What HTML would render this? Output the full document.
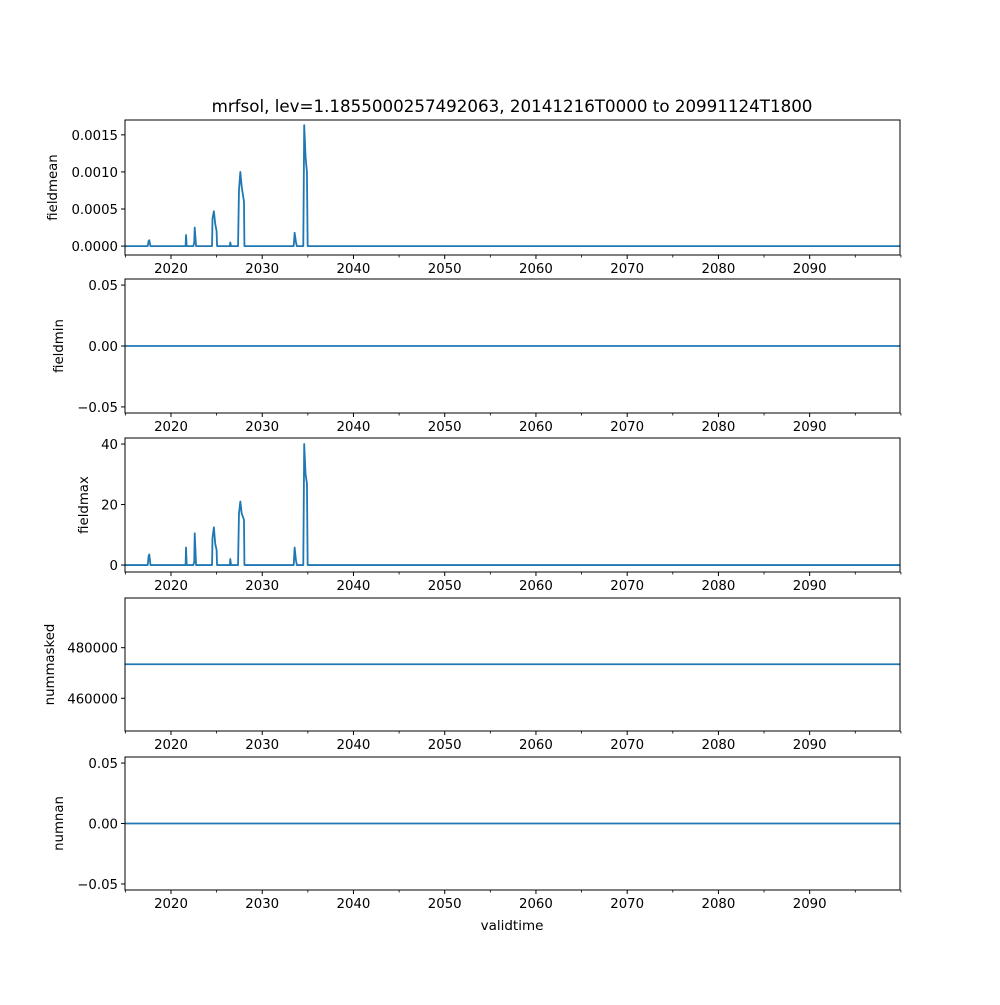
<!DOCTYPE html>
<html><head><meta charset="utf-8"><style>
body{margin:0;background:#fff}
svg text{font-family:"DejaVu Sans","Liberation Sans",sans-serif;fill:#000}
</style></head><body>
<svg id="fig" width="1000" height="1000" viewBox="0 0 1000 1000" xmlns="http://www.w3.org/2000/svg">
<rect width="1000" height="1000" fill="#fff"/>
<text x="512" y="112" font-size="16.7" text-anchor="middle">mrfsol, lev=1.1855000257492063, 20141216T0000 to 20991124T1800</text>
<text x="512" y="930" font-size="13.5" text-anchor="middle">validtime</text>
</svg>
<script>
// data
const times = [2014.96, 2017.45, 2017.55, 2017.62, 2017.75, 2021.6, 2021.65, 2021.72, 2022.45, 2022.55, 2022.6, 2022.75, 2024.5, 2024.55, 2024.7, 2024.85, 2025.0, 2025.05, 2026.45, 2026.5, 2026.58, 2027.35, 2027.45, 2027.6, 2027.75, 2028.0, 2028.05, 2033.45, 2033.55, 2033.7, 2033.8, 2034.5, 2034.6, 2034.75, 2034.9, 2034.98, 2099.9];
const fieldmean = [0, 0, 0.00007, 0.00008, 0, 0, 0.00015, 0, 0, 0.00005, 0.00025, 0, 0, 0.00037, 0.00047, 0.0003, 0.0002, 0, 0, 0.00005, 0, 0, 0.00075, 0.001, 0.0008, 0.0006, 0, 0, 0.00018, 0.00005, 0, 0, 0.00163, 0.0012, 0.001, 0, 0];
const fieldmax = [0, 0, 3.0, 3.5, 0, 0, 5.8, 0, 0, 1, 10.5, 0, 0, 9, 12.5, 7, 5, 0, 0, 2, 0, 0, 17, 21, 17, 15, 0, 0, 5.8, 1.5, 0, 0, 40, 30, 27, 0, 0];
const nummaskedValue = 473440;
const majorYears = [2020, 2030, 2040, 2050, 2060, 2070, 2080, 2090];
const minorYears = [2015, 2025, 2035, 2045, 2055, 2065, 2075, 2085, 2095, 2100];

const svg = document.getElementById('fig');
const NS = 'http://www.w3.org/2000/svg';
const X0 = 125, X1 = 900, T0 = 2014.96, T1 = 2099.9;
const xs = t => X0 + (t - T0) / (T1 - T0) * (X1 - X0);
function mk(tag, attrs, parent) {
  const e = document.createElementNS(NS, tag);
  for (const k in attrs) e.setAttribute(k, attrs[k]);
  (parent || svg).appendChild(e);
  return e;
}
const minus = s => s.replace('-', '\u2212');
const panels = [
  {name:'fieldmean', top:120, bot:255, ymin:-0.00012, ymax:0.0017, ticks:[0,0.0005,0.001,0.0015], fmt:v=>v.toFixed(4), vals:fieldmean, lab:'fieldmean', labx:57},
  {name:'fieldmin', top:279, bot:413, ymin:-0.055, ymax:0.055, ticks:[-0.05,0,0.05], fmt:v=>v.toFixed(2), vals:times.map(()=>0), lab:'fieldmin', labx:63},
  {name:'fieldmax', top:438, bot:572, ymin:-2.3, ymax:42, ticks:[0,20,40], fmt:v=>String(v), vals:fieldmax, lab:'fieldmax', labx:88},
  {name:'nummasked', top:598, bot:731, ymin:447070, ymax:499640, ticks:[460000,480000], fmt:v=>String(v), vals:times.map(()=>nummaskedValue), lab:'nummasked', labx:54},
  {name:'numnan', top:757, bot:890, ymin:-0.055, ymax:0.055, ticks:[-0.05,0,0.05], fmt:v=>v.toFixed(2), vals:times.map(()=>0), lab:'numnan', labx:63}
];
panels.forEach(p => {
  const g = mk('g', {});
  
  
  const ys = v => p.bot - (v - p.ymin) / (p.ymax - p.ymin) * (p.bot - p.top);
  const d = times.map((t, i) => (i ? 'L' : 'M') + xs(t).toFixed(2) + ' ' + ys(p.vals[i]).toFixed(2)).join(' ');
  const line = mk('path', {d:d, fill:'none', stroke:'#1f77b4', 'stroke-width':1.8, 'stroke-linejoin':'round'}, g);
  
  
  const fr = mk('rect', {x:X0, y:p.top, width:X1-X0, height:p.bot-p.top, fill:'none', stroke:'#000', 'stroke-width':1}, g);
  
  
  p.ticks.forEach(v => {
    const y = ys(v);
    mk('line', {x1:X0-4, x2:X0, y1:y, y2:y, stroke:'#000', 'stroke-width':1}, g);
    const t = mk('text', {x:X0-7, y:y+5, 'font-size':13.3, 'text-anchor':'end'}, g);
    t.textContent = minus(p.fmt(v));
    
    
  });
  majorYears.forEach(yr => {
    const x = xs(yr);
    mk('line', {x1:x, x2:x, y1:p.bot, y2:p.bot+4, stroke:'#000', 'stroke-width':1}, g);
    const t = mk('text', {x:x, y:p.bot+18, 'font-size':13.3, 'text-anchor':'middle'}, g);
    t.textContent = yr;
    
    
  });
  minorYears.forEach(yr => {
    const x = xs(yr);
    mk('line', {x1:x, x2:x, y1:p.bot, y2:p.bot+2.5, stroke:'#000', 'stroke-width':0.8}, g);
  });
  const cy = (p.top + p.bot) / 2;
  const yl = mk('text', {x:p.labx, y:cy, 'font-size':13.3, 'text-anchor':'middle', transform:'rotate(-90 '+p.labx+' '+cy+')'}, g);
  yl.textContent = p.lab;
  
  
});
</script>
</body></html>
